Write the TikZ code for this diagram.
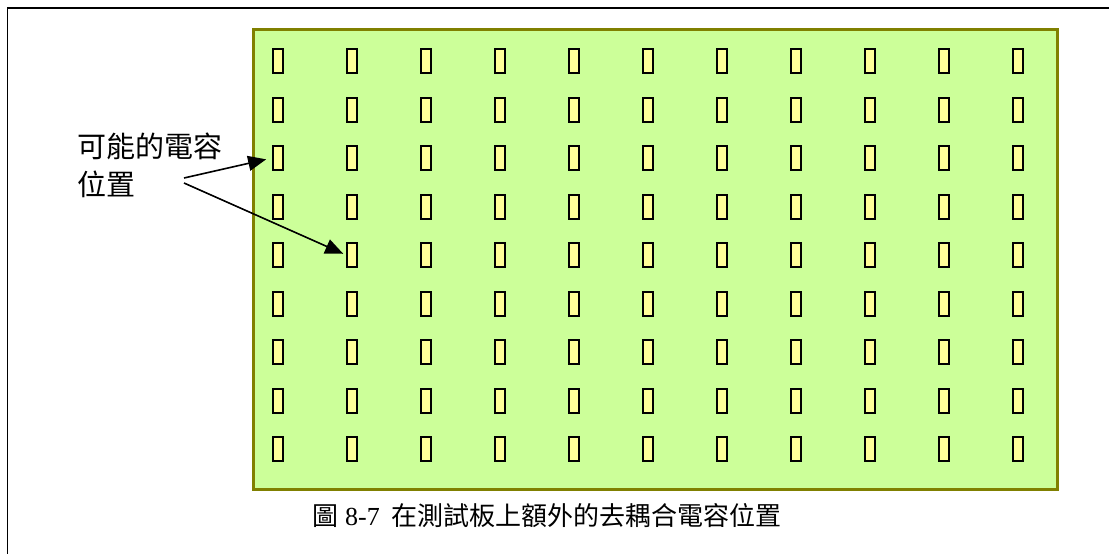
\documentclass[tikz,border=0pt]{standalone}
\usepackage{fontspec}
\usetikzlibrary{arrows.meta}
\newfontfamily\cjk{Noto Sans CJK TC}
\newfontfamily\lserif{Liberation Serif}
\definecolor{boardfill}{HTML}{CCFF99}
\definecolor{boardline}{HTML}{808000}
\definecolor{capfill}{HTML}{FFFF99}
\tikzset{
  board/.style={draw=boardline, fill=boardfill, line width=3.5pt},
  capbox/.style={draw=black, fill=capfill, line width=2pt, minimum width=10pt, minimum height=24pt, inner sep=0pt},
  arr/.style={line width=1.6pt, -{Triangle[length=18pt,width=15pt]}},
  frame/.style={draw=black, line width=1.8pt},
}
\begin{document}
\begin{tikzpicture}[x=1pt,y=-1pt]
\useasboundingbox (0,0) rectangle (1109,554);
\begin{scope}
\clip (0,0) rectangle (1109,554);
\draw[frame] (7.5,8) rectangle (1125,570);
\end{scope}
\node[board, minimum width=804pt, minimum height=460pt, inner sep=0pt, anchor=north west] (B) at (251.5,27.5) {};
\foreach \r in {1,...,9}{
  \foreach \c in {1,...,11}{
    \node[capbox] (c-\r-\c) at ({278+(\c-1)*74},{61+(\r-1)*48.5}) {};
  }
}
\node[anchor=north west, inner sep=0pt, align=left, font=\cjk\fontsize{29}{38}\selectfont] (L) at (77,133) {可能的電容\\位置};
\coordinate (s1) at (184,178);
\coordinate (s2) at (184,183);
\draw[arr, shorten >=6pt] (s1) -- (c-3-1.west);
\draw[arr, shorten >=3pt] (s2) -- (c-5-2.west);
\node[anchor=base west, inner sep=0pt, font=\fontsize{26}{32}\selectfont] (cap) at (312,525) {{\cjk 圖}\hspace{7pt}{\lserif 8-7}\hspace{12pt}{\cjk 在測試板上額外的去耦合電容位置}};
\end{tikzpicture}
\end{document}
